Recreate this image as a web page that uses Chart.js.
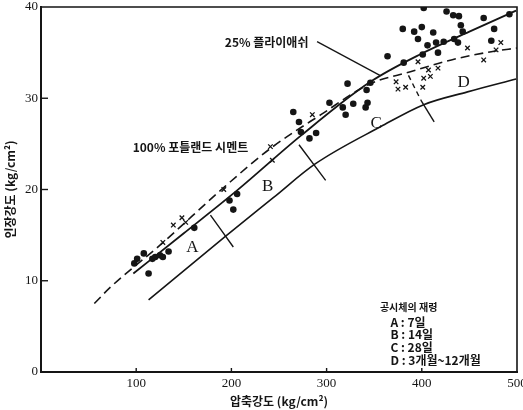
<!DOCTYPE html>
<html><head><meta charset="utf-8">
<script src="https://cdn.jsdelivr.net/npm/chart.js@4.4.1/dist/chart.umd.min.js"></script>
<style>html,body{margin:0;padding:0;background:#fff}#wrap{width:523px;height:410px}</style>
</head><body><div id="wrap"><canvas id="c" width="523" height="410"></canvas></div>
<script>
// ---- data (compressive strength x, tensile strength y, kg/cm²) ----
const flyAshPoints = [
  [98,11.9],[101,12.4],[108,13.0],[113,10.8],[117,12.4],[120,12.6],[125,12.8],[128,12.6],[134,13.2],
  [161,15.8],[198,18.8],[206,19.5],[202,17.8],
  [265,28.5],[271,27.4],[273,26.3],[282,25.6],[289,26.2],[303,29.5],[317,29.0],[320,28.2],[328,29.4],
  [341,29.0],[343,29.5],[342,30.9],[346,31.7],[322,31.6],[364,34.6],[381,33.9],
  [380,37.6],[392,37.3],[400,37.8],[412,37.2],[396,36.5],[406,35.8],[415,36.1],[423,36.2],[434,36.5],
  [438,36.1],[417,35.0],[401,34.8],[402,39.9],[426,39.5],[433,39.1],[439,39.0],[465,38.8],[492,39.2],
  [441,38.0],[443,37.3],[476,37.6],[473,36.3]
];
const portlandPoints = [
  [128,14.2],[139,16.1],[148,16.9],[152,16.4],[192,20.0],[241,24.7],[243,23.2],[285,28.2],
  [373,31.8],[375,31.0],[383,31.2],[401,31.2],[402,32.2],[409,32.4],[407,33.1],[417,33.3],[396,34.0],
  [448,35.5],[465,34.2],[478,35.3],[483,36.1]
];
const flyAshCurve = [[97,10.8],[150,15.2],[206,19.9],[273,25.9],[346,31.8],[400,34.9],[450,37.3],[499,39.6]];
const portlandCurve = [[56,7.5],[73,9.3],[125,13.9],[194,20.4],[241,24.5],[294,28.2],[346,31.6],[388,32.9],[431,34.2],[473,35.1],[500,35.5]];
const ageCurve = [[113,7.9],[194,14.9],[244,19.1],[288,22.8],[357,26.9],[402,29.3],[448,30.7],[499,32.1]];
const boundaryAB = [[178,17.2],[202,13.7]];
const boundaryBC = [[271,24.9],[299,21.0]];
const boundaryCDdashed = [[386,32.5],[399,29.8]];
const boundaryCDsolid = [[399,29.8],[413,27.4]];
const xTickValues = [100,200,300,400,500];
const yTickValues = [0,10,20,30,40];
const ageLetters = ['A','B','C','D'];
const agePeriods = ['7일','14일','28일','3개월~12개월'];
const flyAshName = '25% 플라이애쉬';
const portlandName = '100% 포틀랜드 시멘트';
const legendTitle = '공시체의 재령';
const xTitle = '압축강도 (kg/cm²)';
const yTitle = '인장강도 (kg/cm²)';

// ---- annotation placement (data coordinates) ----
const letterPos = [[159,13.6],[238,20.3],[352,27.2],[444,31.7]];
const flyAshLabelPos = [237,36.1];
const flyAshLeader = [[290,36.2],[356,32.5]];
const portlandLabelPos = [157,24.6];
const legendPos = [[356,7.1],[367,5.4],[367,4.1],[367,2.7],[367,1.3]];

const toXY = a => a.map(p => ({x:p[0], y:p[1]}));
const INK = '#151515';
const KR = '"Noto Sans CJK KR", sans-serif';
const SERIF = '"Liberation Serif", "DejaVu Serif", serif';

function lineSet(d, dash, w){
  return {type:'scatter', data:toXY(d), showLine:true, borderColor:INK, borderWidth:w||1.6,
    borderDash:dash||[], pointRadius:0, fill:false, cubicInterpolationMode:'monotone'};
}

const decor = {
  id:'decor',
  afterDatasetsDraw(chart){
    const ctx = chart.ctx, a = chart.chartArea, xs = chart.scales.x, ys = chart.scales.y;
    const P = (x,y) => [xs.getPixelForValue(x), ys.getPixelForValue(y)];
    ctx.save();
    ctx.strokeStyle = INK; ctx.lineWidth = 1.6;
    ctx.beginPath(); ctx.moveTo(a.left, a.top); ctx.lineTo(a.right, a.top); ctx.lineTo(a.right, a.bottom); ctx.stroke();
    ctx.lineWidth = 1.4;
    yTickValues.slice(1,-1).forEach(v => { const y = ys.getPixelForValue(v); ctx.beginPath(); ctx.moveTo(a.left, y); ctx.lineTo(a.left+7, y); ctx.stroke(); });
    xTickValues.slice(0,-1).forEach(v => { const x = xs.getPixelForValue(v); ctx.beginPath(); ctx.moveTo(x, a.bottom); ctx.lineTo(x, a.bottom-4); ctx.stroke(); });
    ctx.lineWidth = 1.3;
    let p1 = P(...flyAshLeader[0]), p2 = P(...flyAshLeader[1]);
    ctx.beginPath(); ctx.moveTo(p1[0],p1[1]); ctx.lineTo(p2[0],p2[1]); ctx.stroke();
    ctx.fillStyle = INK; ctx.textAlign = 'center'; ctx.textBaseline = 'middle';
    ctx.font = '17px ' + SERIF;
    ageLetters.forEach((t,i) => { const p = P(...letterPos[i]); ctx.fillText(t, p[0], p[1]); });
    ctx.font = 'bold 12px ' + KR;
    let p = P(...flyAshLabelPos); ctx.fillText(flyAshName, p[0], p[1]);
    p = P(...portlandLabelPos); ctx.fillText(portlandName, p[0], p[1]);
    ctx.textAlign = 'left';
    ctx.font = 'bold 10px ' + KR;
    p = P(...legendPos[0]); ctx.fillText(legendTitle, p[0], p[1]);
    ctx.font = 'bold 12px ' + KR;
    ageLetters.forEach((t,i) => { const q = P(...legendPos[i+1]); ctx.fillText(t + ' : ' + agePeriods[i], q[0], q[1]); });
    ctx.restore();
  }
};

new Chart(document.getElementById('c'), {
  type:'scatter',
  data:{datasets:[
    lineSet(flyAshCurve, [], 1.8),
    lineSet(portlandCurve, [9,5], 1.6),
    lineSet(ageCurve, [], 1.6),
    lineSet(boundaryAB, [], 1.4),
    lineSet(boundaryBC, [], 1.4),
    lineSet(boundaryCDdashed, [5,4], 1.4),
    lineSet(boundaryCDsolid, [], 1.4),
    {data:toXY(flyAshPoints), pointStyle:'circle', pointRadius:3.3, backgroundColor:INK, borderColor:INK, borderWidth:0},
    {data:toXY(portlandPoints), pointStyle:'crossRot', pointRadius:3.2, borderColor:INK, borderWidth:1.3, backgroundColor:INK}
  ]},
  options:{
    responsive:false, animation:false, events:[],
    layout:{padding:{left:0, right:6, top:7, bottom:0}},
    plugins:{legend:{display:false}, tooltip:{enabled:false}},
    scales:{
      x:{type:'linear', min:0, max:500,
        afterBuildTicks: s => { s.ticks = xTickValues.map(v => ({value:v})); },
        afterFit: s => { s.height = 38; s.paddingLeft = 0; s.paddingRight = 0; },
        grid:{display:false, drawTicks:false},
        border:{display:true, color:INK, width:2},
        ticks:{padding:4, color:INK, font:{family:SERIF, size:13}, maxRotation:0},
        title:{display:true, text:xTitle, color:INK, font:{family:KR, size:12, weight:'bold'}, padding:{top:0, bottom:1}}
      },
      y:{type:'linear', min:0, max:40,
        afterBuildTicks: s => { s.ticks = yTickValues.map(v => ({value:v})); },
        afterFit: s => { s.width = 41; s.paddingTop = 0; s.paddingBottom = 0; },
        grid:{display:false, drawTicks:false},
        border:{display:true, color:INK, width:2},
        ticks:{padding:3, color:INK, font:{family:SERIF, size:13}},
        title:{display:true, text:yTitle, color:INK, font:{family:KR, size:12, weight:'bold'}, padding:{top:3, bottom:0}}
      }
    }
  },
  plugins:[decor]
});
</script></body></html>
